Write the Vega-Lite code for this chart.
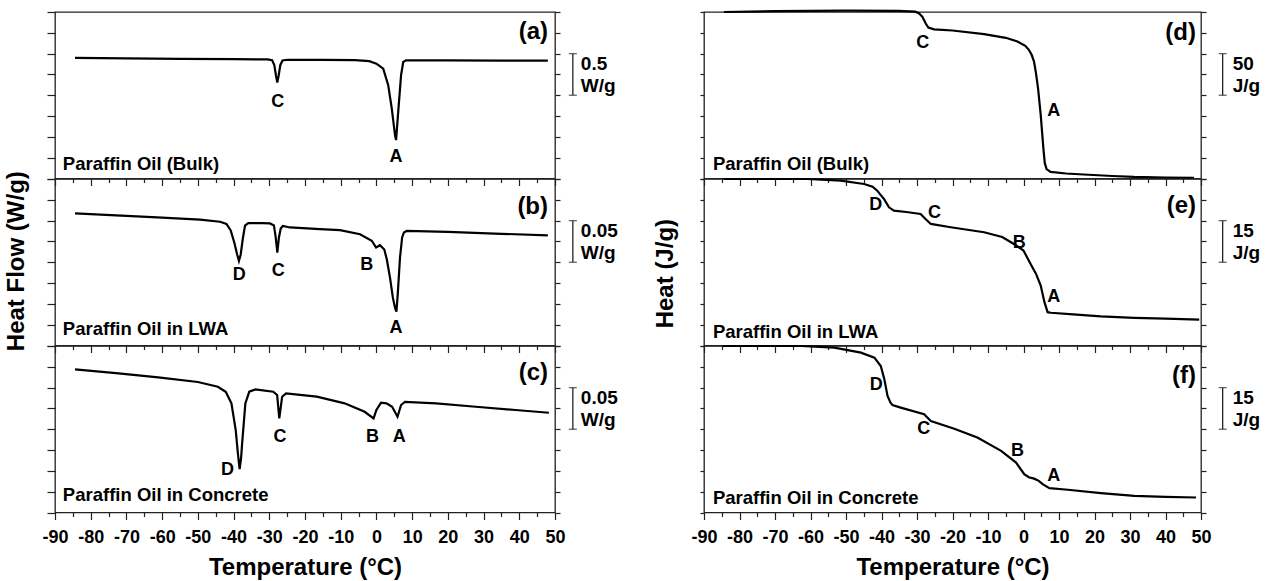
{
"$schema": "https://vega.github.io/schema/vega-lite/v6.json",
"background": "white",
"padding": {"left": 5, "top": 5, "right": 0, "bottom": 0},
"spacing": 35,
"config": {
 "font": "Liberation Sans",
 "view": {"stroke": "#222", "strokeWidth": 1.3},
 "axis": {"domain": false, "grid": false, "tickColor": "#222", "tickWidth": 1.2, "labelFontWeight": "bold", "labelFontSize": 18, "labelColor": "black", "labelOverlap": false, "labelFlush": false, "titleFontWeight": "bold", "titleColor": "black", "titleFontSize": 24}
},
"datasets": {
 "curves": [
  {"panel":"a","t":-84.4,"v":1.448},{"panel":"a","t":-70,"v":1.443},{"panel":"a","t":-55,"v":1.437},{"panel":"a","t":-40,"v":1.434},{"panel":"a","t":-30.5,"v":1.43},{"panel":"a","t":-29.2,"v":1.421},{"panel":"a","t":-28.6,"v":1.364},{"panel":"a","t":-28.1,"v":1.232},{"panel":"a","t":-27.75,"v":1.152},{"panel":"a","t":-27.4,"v":1.232},{"panel":"a","t":-26.9,"v":1.364},{"panel":"a","t":-26.3,"v":1.418},{"panel":"a","t":-25,"v":1.426},{"panel":"a","t":-15,"v":1.425},{"panel":"a","t":-6,"v":1.421},{"panel":"a","t":-2,"v":1.41},{"panel":"a","t":0,"v":1.38},{"panel":"a","t":1.9,"v":1.32},{"panel":"a","t":3.3,"v":1.121},{"panel":"a","t":4.3,"v":0.84},{"panel":"a","t":5.2,"v":0.521},{"panel":"a","t":5.5,"v":0.461},{"panel":"a","t":6.1,"v":0.8},{"panel":"a","t":6.9,"v":1.241},{"panel":"a","t":7.5,"v":1.4},{"panel":"a","t":8.3,"v":1.42},{"panel":"a","t":20,"v":1.418},{"panel":"a","t":35,"v":1.417},{"panel":"a","t":48,"v":1.416},
  {"panel":"b","t":-84.4,"v":0.1587},{"panel":"b","t":-70,"v":0.1557},{"panel":"b","t":-60,"v":0.1535},{"panel":"b","t":-49.4,"v":0.1511},{"panel":"b","t":-43.8,"v":0.1487},{"panel":"b","t":-42,"v":0.146},{"panel":"b","t":-40.8,"v":0.1382},{"panel":"b","t":-39.8,"v":0.1237},{"panel":"b","t":-39,"v":0.1093},{"panel":"b","t":-38.5,"v":0.1017},{"panel":"b","t":-38,"v":0.1093},{"panel":"b","t":-37.4,"v":0.1286},{"panel":"b","t":-36.8,"v":0.1439},{"panel":"b","t":-35.9,"v":0.147},{"panel":"b","t":-32,"v":0.1469},{"panel":"b","t":-29.8,"v":0.1466},{"panel":"b","t":-28.7,"v":0.1442},{"panel":"b","t":-28.2,"v":0.1298},{"panel":"b","t":-27.75,"v":0.1117},{"panel":"b","t":-27.3,"v":0.1298},{"panel":"b","t":-26.8,"v":0.1406},{"panel":"b","t":-26.2,"v":0.1436},{"panel":"b","t":-24.2,"v":0.1418},{"panel":"b","t":-15.8,"v":0.1398},{"panel":"b","t":-10.2,"v":0.1386},{"panel":"b","t":-4.6,"v":0.1337},{"panel":"b","t":-1.3,"v":0.1258},{"panel":"b","t":-0.1,"v":0.1177},{"panel":"b","t":1,"v":0.1205},{"panel":"b","t":2.2,"v":0.1153},{"panel":"b","t":2.9,"v":0.1036},{"panel":"b","t":3.8,"v":0.0816},{"panel":"b","t":4.6,"v":0.0575},{"panel":"b","t":5.2,"v":0.0454},{"panel":"b","t":5.6,"v":0.0406},{"panel":"b","t":6,"v":0.0635},{"panel":"b","t":6.6,"v":0.1057},{"panel":"b","t":7.2,"v":0.1298},{"panel":"b","t":7.7,"v":0.1358},{"panel":"b","t":8.5,"v":0.1378},{"panel":"b","t":20,"v":0.1364},{"panel":"b","t":35,"v":0.1342},{"panel":"b","t":48,"v":0.1322},
  {"panel":"c","t":-84.4,"v":0.1719},{"panel":"c","t":-72.2,"v":0.1672},{"panel":"c","t":-61.1,"v":0.1623},{"panel":"c","t":-50,"v":0.1568},{"panel":"c","t":-44.4,"v":0.1511},{"panel":"c","t":-42.2,"v":0.1451},{"panel":"c","t":-40.6,"v":0.1311},{"panel":"c","t":-39.4,"v":0.099},{"panel":"c","t":-38.8,"v":0.0712},{"panel":"c","t":-38.3,"v":0.0521},{"panel":"c","t":-37.9,"v":0.0652},{"panel":"c","t":-37.6,"v":0.083},{"panel":"c","t":-36.7,"v":0.1311},{"panel":"c","t":-35.6,"v":0.1451},{"panel":"c","t":-33.9,"v":0.1479},{"panel":"c","t":-28.9,"v":0.1451},{"panel":"c","t":-27.8,"v":0.1411},{"panel":"c","t":-27.2,"v":0.113},{"panel":"c","t":-26.4,"v":0.1391},{"panel":"c","t":-25.3,"v":0.1431},{"panel":"c","t":-16.7,"v":0.1391},{"panel":"c","t":-8.9,"v":0.1311},{"panel":"c","t":-3.3,"v":0.121},{"panel":"c","t":-0.8,"v":0.113},{"panel":"c","t":0,"v":0.1231},{"panel":"c","t":1.3,"v":0.1319},{"panel":"c","t":2.8,"v":0.1311},{"panel":"c","t":4.4,"v":0.127},{"panel":"c","t":5.9,"v":0.115},{"panel":"c","t":6.9,"v":0.1291},{"panel":"c","t":8,"v":0.133},{"panel":"c","t":16.7,"v":0.1311},{"panel":"c","t":27.8,"v":0.127},{"panel":"c","t":38.9,"v":0.1231},{"panel":"c","t":48.3,"v":0.1198},
  {"panel":"d","t":-84.4,"v":200},{"panel":"d","t":-70,"v":201},{"panel":"d","t":-50,"v":201.6},{"panel":"d","t":-35,"v":201.3},{"panel":"d","t":-30.5,"v":200.4},{"panel":"d","t":-29.5,"v":198.6},{"panel":"d","t":-28.5,"v":194.3},{"panel":"d","t":-27.5,"v":185.9},{"panel":"d","t":-26.8,"v":181.4},{"panel":"d","t":-25.2,"v":179.2},{"panel":"d","t":-20,"v":177.8},{"panel":"d","t":-11.1,"v":173.5},{"panel":"d","t":-5,"v":169},{"panel":"d","t":-1.7,"v":164.6},{"panel":"d","t":0.5,"v":159.4},{"panel":"d","t":1.5,"v":154.6},{"panel":"d","t":2.3,"v":148.6},{"panel":"d","t":2.96,"v":140.5},{"panel":"d","t":3.5,"v":126.9},{"panel":"d","t":4.1,"v":108.4},{"panel":"d","t":4.85,"v":76.3},{"panel":"d","t":5.6,"v":36.1},{"panel":"d","t":6,"v":18.4},{"panel":"d","t":6.5,"v":11.2},{"panel":"d","t":7.66,"v":7.95},{"panel":"d","t":12,"v":6},{"panel":"d","t":17,"v":4.8},{"panel":"d","t":25,"v":3},{"panel":"d","t":31.1,"v":1.9},{"panel":"d","t":40,"v":1.2},{"panel":"d","t":48,"v":0.7},
  {"panel":"e","t":-84.4,"v":60},{"panel":"e","t":-60.9,"v":60},{"panel":"e","t":-51.5,"v":59.4},{"panel":"e","t":-44.9,"v":58.2},{"panel":"e","t":-42.5,"v":57.2},{"panel":"e","t":-41.2,"v":55.8},{"panel":"e","t":-40.2,"v":54.2},{"panel":"e","t":-39.3,"v":52.8},{"panel":"e","t":-37.9,"v":49.8},{"panel":"e","t":-36.5,"v":48.6},{"panel":"e","t":-33,"v":48.1},{"panel":"e","t":-29,"v":47.4},{"panel":"e","t":-27.6,"v":45.6},{"panel":"e","t":-26.1,"v":43.8},{"panel":"e","t":-20.5,"v":42.6},{"panel":"e","t":-11.1,"v":40.8},{"panel":"e","t":-6,"v":39.1},{"panel":"e","t":-2.7,"v":36.6},{"panel":"e","t":0,"v":34.2},{"panel":"e","t":2,"v":29.4},{"panel":"e","t":3.5,"v":25.9},{"panel":"e","t":4.85,"v":21.6},{"panel":"e","t":5.9,"v":15.6},{"panel":"e","t":6.8,"v":12},{"panel":"e","t":7.7,"v":11.8},{"panel":"e","t":14,"v":11.2},{"panel":"e","t":21.8,"v":10.5},{"panel":"e","t":31.2,"v":9.97},{"panel":"e","t":40,"v":9.65},{"panel":"e","t":49.5,"v":9.36},
  {"panel":"f","t":-84.7,"v":60},{"panel":"f","t":-62.7,"v":60},{"panel":"f","t":-53.3,"v":59.4},{"panel":"f","t":-45.8,"v":57.6},{"panel":"f","t":-42,"v":55.8},{"panel":"f","t":-40.2,"v":52.8},{"panel":"f","t":-39.2,"v":48},{"panel":"f","t":-38.3,"v":42},{"panel":"f","t":-37.5,"v":39.7},{"panel":"f","t":-36.9,"v":38.7},{"panel":"f","t":-34.6,"v":37.8},{"panel":"f","t":-28,"v":35.4},{"panel":"f","t":-26.1,"v":33},{"panel":"f","t":-19.5,"v":30.2},{"panel":"f","t":-13,"v":27},{"panel":"f","t":-6.3,"v":22.2},{"panel":"f","t":-2.1,"v":18},{"panel":"f","t":0.2,"v":13.8},{"panel":"f","t":1.5,"v":12.7},{"panel":"f","t":3,"v":12.2},{"panel":"f","t":4.3,"v":11.4},{"panel":"f","t":5.4,"v":10.2},{"panel":"f","t":7.3,"v":8.8},{"panel":"f","t":12.5,"v":8.2},{"panel":"f","t":21.8,"v":7},{"panel":"f","t":31.2,"v":6},{"panel":"f","t":40,"v":5.6},{"panel":"f","t":48.6,"v":5.4}
 ],
 "notes": [
  {"panel":"a","kind":"peak","t":-27.6,"v":0.92,"text":"C"},{"panel":"a","kind":"peak","t":5.5,"v":0.26,"text":"A"},{"panel":"a","kind":"sample","t":-87.8,"v":0.176,"text":"Paraffin Oil (Bulk)"},{"panel":"a","kind":"tag","t":48.05,"v":1.76,"text":"(a)"},
  {"panel":"b","kind":"peak","t":-38.4,"v":0.0852,"text":"D"},{"panel":"b","kind":"peak","t":-27.5,"v":0.09,"text":"C"},{"panel":"b","kind":"peak","t":-2.7,"v":0.0972,"text":"B"},{"panel":"b","kind":"peak","t":5.5,"v":0.0213,"text":"A"},{"panel":"b","kind":"sample","t":-87.8,"v":0.0201,"text":"Paraffin Oil in LWA"},{"panel":"b","kind":"tag","t":48.05,"v":0.1659,"text":"(b)"},
  {"panel":"c","kind":"peak","t":-41.7,"v":0.0509,"text":"D"},{"panel":"c","kind":"peak","t":-27,"v":0.091,"text":"C"},{"panel":"c","kind":"peak","t":-1.1,"v":0.091,"text":"B"},{"panel":"c","kind":"peak","t":6.4,"v":0.091,"text":"A"},{"panel":"c","kind":"sample","t":-87.8,"v":0.0211,"text":"Paraffin Oil in Concrete"},{"panel":"c","kind":"tag","t":48.05,"v":0.1671,"text":"(c)"},
  {"panel":"d","kind":"peak","t":-28.4,"v":162.6,"text":"C"},{"panel":"d","kind":"peak","t":8.5,"v":81.1,"text":"A"},{"panel":"d","kind":"sample","t":-87.5,"v":16.9,"text":"Paraffin Oil (Bulk)"},{"panel":"d","kind":"tag","t":48.6,"v":174.7,"text":"(d)"},
  {"panel":"e","kind":"peak","t":-41.6,"v":50.8,"text":"D"},{"panel":"e","kind":"peak","t":-25.1,"v":47.8,"text":"C"},{"panel":"e","kind":"peak","t":-1.2,"v":37,"text":"B"},{"panel":"e","kind":"peak","t":8.5,"v":17.4,"text":"A"},{"panel":"e","kind":"sample","t":-87.5,"v":5,"text":"Paraffin Oil in LWA"},{"panel":"e","kind":"tag","t":48.6,"v":50.4,"text":"(e)"},
  {"panel":"f","kind":"peak","t":-41.5,"v":46,"text":"D"},{"panel":"f","kind":"peak","t":-28.1,"v":30,"text":"C"},{"panel":"f","kind":"peak","t":-1.7,"v":22.2,"text":"B"},{"panel":"f","kind":"peak","t":8.5,"v":13,"text":"A"},{"panel":"f","kind":"sample","t":-87.5,"v":5.4,"text":"Paraffin Oil in Concrete"},{"panel":"f","kind":"tag","t":48.6,"v":49.2,"text":"(f)"}
 ],
 "bars": [
  {"panel":"a","t":55,"v1":1.0,"v2":1.5,"text":"0.5\nW/g"},
  {"panel":"b","t":55,"v1":0.1,"v2":0.15,"text":"0.05\nW/g"},
  {"panel":"c","t":55,"v1":0.1,"v2":0.15,"text":"0.05\nW/g"},
  {"panel":"d","t":56.1,"v1":100,"v2":150,"text":"50\nJ/g"},
  {"panel":"e","t":56.1,"v1":30,"v2":45,"text":"15\nJ/g"},
  {"panel":"f","t":56.1,"v1":30,"v2":45,"text":"15\nJ/g"}
 ]
},
"hconcat": [
 {"spacing": 0, "bounds": "flush",
  "title": {"text": "Heat Flow (W/g)", "orient": "left", "anchor": "middle", "fontSize": 24, "fontWeight": "bold", "color": "black", "offset": 12, "dx": 34},
  "vconcat": [
  {"width": 500, "height": 166.5, "resolve": {"axis": {"y": "independent"}},
   "layer": [
    {"data": {"name": "curves"}, "transform": [{"filter": "datum.panel === 'a'"}], "mark": {"type": "line", "color": "black", "strokeWidth": 2.2},
     "encoding": {"x": {"field": "t", "type": "quantitative", "scale": {"domain": [-90, 50], "nice": false, "zero": false}, "axis": {"values": [-90,-85,-80,-75,-70,-65,-60,-55,-50,-45,-40,-35,-30,-25,-20,-15,-10,-5,0,5,10,15,20,25,30,35,40,45,50], "tickCount": 29, "tickSize": {"condition": {"test": "datum.value % 10 === 0", "value": 7}, "value": 4}, "labels": false, "title": null}},
      "y": {"field": "v", "type": "quantitative", "scale": {"domain": [0, 2], "nice": false, "zero": false}, "axis": {"orient": "left", "values": [0,0.25,0.5,0.75,1,1.25,1.5,1.75,2], "labels": false, "title": null, "tickSize": 8}}}},
    {"data": {"name": "notes"}, "transform": [{"filter": "datum.panel === 'a' && datum.kind === 'peak'"}], "mark": {"type": "text", "color": "black", "fontSize": 18, "fontWeight": "bold"},
     "encoding": {"x": {"field": "t", "type": "quantitative"}, "y": {"field": "v", "type": "quantitative", "axis": {"orient": "right", "values": [0,0.25,0.5,0.75,1,1.25,1.5,1.75,2], "labels": false, "title": null, "tickSize": 5}}, "text": {"field": "text"}}},
    {"data": {"name": "notes"}, "transform": [{"filter": "datum.panel === 'a' && datum.kind === 'sample'"}], "mark": {"type": "text", "color": "black", "fontSize": 18.5, "fontWeight": "bold", "align": "left"},
     "encoding": {"x": {"field": "t", "type": "quantitative"}, "y": {"field": "v", "type": "quantitative", "axis": null}, "text": {"field": "text"}}},
    {"data": {"name": "notes"}, "transform": [{"filter": "datum.panel === 'a' && datum.kind === 'tag'"}], "mark": {"type": "text", "color": "black", "fontSize": 24, "fontWeight": "bold", "align": "right"},
     "encoding": {"x": {"field": "t", "type": "quantitative"}, "y": {"field": "v", "type": "quantitative", "axis": null}, "text": {"field": "text"}}},
    {"data": {"name": "bars"}, "transform": [{"filter": "datum.panel === 'a'"}], "mark": {"type": "rule", "color": "#222", "strokeWidth": 1.3},
     "encoding": {"x": {"field": "t", "type": "quantitative"}, "y": {"field": "v1", "type": "quantitative", "axis": null}, "y2": {"field": "v2"}}},
    {"data": {"name": "bars"}, "transform": [{"filter": "datum.panel === 'a'"}], "mark": {"type": "tick", "orient": "horizontal", "size": 8, "thickness": 1.3, "color": "#222"},
     "encoding": {"x": {"field": "t", "type": "quantitative"}, "y": {"field": "v1", "type": "quantitative", "axis": null}}},
    {"data": {"name": "bars"}, "transform": [{"filter": "datum.panel === 'a'"}], "mark": {"type": "tick", "orient": "horizontal", "size": 8, "thickness": 1.3, "color": "#222"},
     "encoding": {"x": {"field": "t", "type": "quantitative"}, "y": {"field": "v2", "type": "quantitative", "axis": null}}},
    {"data": {"name": "bars"}, "transform": [{"filter": "datum.panel === 'a'"}], "mark": {"type": "text", "color": "black", "fontSize": 19, "fontWeight": "bold", "align": "left", "baseline": "top", "dx": 8, "dy": 1, "lineBreak": "\n", "lineHeight": 22},
     "encoding": {"x": {"field": "t", "type": "quantitative"}, "y": {"field": "v2", "type": "quantitative", "axis": null}, "text": {"field": "text"}}}
   ]},
  {"width": 500, "height": 166.5, "resolve": {"axis": {"y": "independent"}},
   "layer": [
    {"data": {"name": "curves"}, "transform": [{"filter": "datum.panel === 'b'"}], "mark": {"type": "line", "color": "black", "strokeWidth": 2.2},
     "encoding": {"x": {"field": "t", "type": "quantitative", "scale": {"domain": [-90, 50], "nice": false, "zero": false}, "axis": {"values": [-90,-85,-80,-75,-70,-65,-60,-55,-50,-45,-40,-35,-30,-25,-20,-15,-10,-5,0,5,10,15,20,25,30,35,40,45,50], "tickCount": 29, "tickSize": {"condition": {"test": "datum.value % 10 === 0", "value": 7}, "value": 4}, "labels": false, "title": null}},
      "y": {"field": "v", "type": "quantitative", "scale": {"domain": [0, 0.2], "nice": false, "zero": false}, "axis": {"orient": "left", "values": [0,0.025,0.05,0.075,0.1,0.125,0.15,0.175,0.2], "labels": false, "title": null, "tickSize": 8}}}},
    {"data": {"name": "notes"}, "transform": [{"filter": "datum.panel === 'b' && datum.kind === 'peak'"}], "mark": {"type": "text", "color": "black", "fontSize": 18, "fontWeight": "bold"},
     "encoding": {"x": {"field": "t", "type": "quantitative"}, "y": {"field": "v", "type": "quantitative", "axis": {"orient": "right", "values": [0,0.025,0.05,0.075,0.1,0.125,0.15,0.175,0.2], "labels": false, "title": null, "tickSize": 5}}, "text": {"field": "text"}}},
    {"data": {"name": "notes"}, "transform": [{"filter": "datum.panel === 'b' && datum.kind === 'sample'"}], "mark": {"type": "text", "color": "black", "fontSize": 18.5, "fontWeight": "bold", "align": "left"},
     "encoding": {"x": {"field": "t", "type": "quantitative"}, "y": {"field": "v", "type": "quantitative", "axis": null}, "text": {"field": "text"}}},
    {"data": {"name": "notes"}, "transform": [{"filter": "datum.panel === 'b' && datum.kind === 'tag'"}], "mark": {"type": "text", "color": "black", "fontSize": 24, "fontWeight": "bold", "align": "right"},
     "encoding": {"x": {"field": "t", "type": "quantitative"}, "y": {"field": "v", "type": "quantitative", "axis": null}, "text": {"field": "text"}}},
    {"data": {"name": "bars"}, "transform": [{"filter": "datum.panel === 'b'"}], "mark": {"type": "rule", "color": "#222", "strokeWidth": 1.3},
     "encoding": {"x": {"field": "t", "type": "quantitative"}, "y": {"field": "v1", "type": "quantitative", "axis": null}, "y2": {"field": "v2"}}},
    {"data": {"name": "bars"}, "transform": [{"filter": "datum.panel === 'b'"}], "mark": {"type": "tick", "orient": "horizontal", "size": 8, "thickness": 1.3, "color": "#222"},
     "encoding": {"x": {"field": "t", "type": "quantitative"}, "y": {"field": "v1", "type": "quantitative", "axis": null}}},
    {"data": {"name": "bars"}, "transform": [{"filter": "datum.panel === 'b'"}], "mark": {"type": "tick", "orient": "horizontal", "size": 8, "thickness": 1.3, "color": "#222"},
     "encoding": {"x": {"field": "t", "type": "quantitative"}, "y": {"field": "v2", "type": "quantitative", "axis": null}}},
    {"data": {"name": "bars"}, "transform": [{"filter": "datum.panel === 'b'"}], "mark": {"type": "text", "color": "black", "fontSize": 19, "fontWeight": "bold", "align": "left", "baseline": "top", "dx": 8, "dy": 1, "lineBreak": "\n", "lineHeight": 22},
     "encoding": {"x": {"field": "t", "type": "quantitative"}, "y": {"field": "v2", "type": "quantitative", "axis": null}, "text": {"field": "text"}}}
   ]},
  {"width": 500, "height": 166.5, "resolve": {"axis": {"y": "independent"}},
   "layer": [
    {"data": {"name": "curves"}, "transform": [{"filter": "datum.panel === 'c'"}], "mark": {"type": "line", "color": "black", "strokeWidth": 2.2},
     "encoding": {"x": {"field": "t", "type": "quantitative", "scale": {"domain": [-90, 50], "nice": false, "zero": false}, "axis": {"values": [-90,-85,-80,-75,-70,-65,-60,-55,-50,-45,-40,-35,-30,-25,-20,-15,-10,-5,0,5,10,15,20,25,30,35,40,45,50], "tickCount": 29, "tickSize": {"condition": {"test": "datum.value % 10 === 0", "value": 7}, "value": 4}, "labelExpr": "datum.value % 10 === 0 ? '' + datum.value : ''", "labelOverlap": false, "labelFlush": false, "labelPadding": 8.5, "title": "Temperature (°C)", "titlePadding": 9}},
      "y": {"field": "v", "type": "quantitative", "scale": {"domain": [0, 0.2], "nice": false, "zero": false}, "axis": {"orient": "left", "values": [0,0.025,0.05,0.075,0.1,0.125,0.15,0.175,0.2], "labels": false, "title": null, "tickSize": 8}}}},
    {"data": {"name": "notes"}, "transform": [{"filter": "datum.panel === 'c' && datum.kind === 'peak'"}], "mark": {"type": "text", "color": "black", "fontSize": 18, "fontWeight": "bold"},
     "encoding": {"x": {"field": "t", "type": "quantitative"}, "y": {"field": "v", "type": "quantitative", "axis": {"orient": "right", "values": [0,0.025,0.05,0.075,0.1,0.125,0.15,0.175,0.2], "labels": false, "title": null, "tickSize": 5}}, "text": {"field": "text"}}},
    {"data": {"name": "notes"}, "transform": [{"filter": "datum.panel === 'c' && datum.kind === 'sample'"}], "mark": {"type": "text", "color": "black", "fontSize": 18.5, "fontWeight": "bold", "align": "left"},
     "encoding": {"x": {"field": "t", "type": "quantitative"}, "y": {"field": "v", "type": "quantitative", "axis": null}, "text": {"field": "text"}}},
    {"data": {"name": "notes"}, "transform": [{"filter": "datum.panel === 'c' && datum.kind === 'tag'"}], "mark": {"type": "text", "color": "black", "fontSize": 24, "fontWeight": "bold", "align": "right"},
     "encoding": {"x": {"field": "t", "type": "quantitative"}, "y": {"field": "v", "type": "quantitative", "axis": null}, "text": {"field": "text"}}},
    {"data": {"name": "bars"}, "transform": [{"filter": "datum.panel === 'c'"}], "mark": {"type": "rule", "color": "#222", "strokeWidth": 1.3},
     "encoding": {"x": {"field": "t", "type": "quantitative"}, "y": {"field": "v1", "type": "quantitative", "axis": null}, "y2": {"field": "v2"}}},
    {"data": {"name": "bars"}, "transform": [{"filter": "datum.panel === 'c'"}], "mark": {"type": "tick", "orient": "horizontal", "size": 8, "thickness": 1.3, "color": "#222"},
     "encoding": {"x": {"field": "t", "type": "quantitative"}, "y": {"field": "v1", "type": "quantitative", "axis": null}}},
    {"data": {"name": "bars"}, "transform": [{"filter": "datum.panel === 'c'"}], "mark": {"type": "tick", "orient": "horizontal", "size": 8, "thickness": 1.3, "color": "#222"},
     "encoding": {"x": {"field": "t", "type": "quantitative"}, "y": {"field": "v2", "type": "quantitative", "axis": null}}},
    {"data": {"name": "bars"}, "transform": [{"filter": "datum.panel === 'c'"}], "mark": {"type": "text", "color": "black", "fontSize": 19, "fontWeight": "bold", "align": "left", "baseline": "top", "dx": 8, "dy": 1, "lineBreak": "\n", "lineHeight": 22},
     "encoding": {"x": {"field": "t", "type": "quantitative"}, "y": {"field": "v2", "type": "quantitative", "axis": null}, "text": {"field": "text"}}}
   ]}
 ]},
 {"spacing": 0, "bounds": "flush",
  "title": {"text": "Heat (J/g)", "orient": "left", "anchor": "middle", "fontSize": 24, "fontWeight": "bold", "color": "black", "offset": 12, "dx": 19},
  "vconcat": [
  {"width": 497, "height": 166.5, "resolve": {"axis": {"y": "independent"}},
   "layer": [
    {"data": {"name": "curves"}, "transform": [{"filter": "datum.panel === 'd'"}], "mark": {"type": "line", "color": "black", "strokeWidth": 2.2},
     "encoding": {"x": {"field": "t", "type": "quantitative", "scale": {"domain": [-90, 50], "nice": false, "zero": false}, "axis": {"values": [-90,-85,-80,-75,-70,-65,-60,-55,-50,-45,-40,-35,-30,-25,-20,-15,-10,-5,0,5,10,15,20,25,30,35,40,45,50], "tickCount": 29, "tickSize": {"condition": {"test": "datum.value % 10 === 0", "value": 7}, "value": 4}, "labels": false, "title": null}},
      "y": {"field": "v", "type": "quantitative", "scale": {"domain": [0, 200], "nice": false, "zero": false}, "axis": {"orient": "left", "values": [0,25,50,75,100,125,150,175,200], "labels": false, "title": null, "tickSize": 4}}}},
    {"data": {"name": "notes"}, "transform": [{"filter": "datum.panel === 'd' && datum.kind === 'peak'"}], "mark": {"type": "text", "color": "black", "fontSize": 18, "fontWeight": "bold"},
     "encoding": {"x": {"field": "t", "type": "quantitative"}, "y": {"field": "v", "type": "quantitative", "axis": {"orient": "right", "values": [0,25,50,75,100,125,150,175,200], "labels": false, "title": null, "tickSize": 5}}, "text": {"field": "text"}}},
    {"data": {"name": "notes"}, "transform": [{"filter": "datum.panel === 'd' && datum.kind === 'sample'"}], "mark": {"type": "text", "color": "black", "fontSize": 18.5, "fontWeight": "bold", "align": "left"},
     "encoding": {"x": {"field": "t", "type": "quantitative"}, "y": {"field": "v", "type": "quantitative", "axis": null}, "text": {"field": "text"}}},
    {"data": {"name": "notes"}, "transform": [{"filter": "datum.panel === 'd' && datum.kind === 'tag'"}], "mark": {"type": "text", "color": "black", "fontSize": 24, "fontWeight": "bold", "align": "right"},
     "encoding": {"x": {"field": "t", "type": "quantitative"}, "y": {"field": "v", "type": "quantitative", "axis": null}, "text": {"field": "text"}}},
    {"data": {"name": "bars"}, "transform": [{"filter": "datum.panel === 'd'"}], "mark": {"type": "rule", "color": "#222", "strokeWidth": 1.3},
     "encoding": {"x": {"field": "t", "type": "quantitative"}, "y": {"field": "v1", "type": "quantitative", "axis": null}, "y2": {"field": "v2"}}},
    {"data": {"name": "bars"}, "transform": [{"filter": "datum.panel === 'd'"}], "mark": {"type": "tick", "orient": "horizontal", "size": 8, "thickness": 1.3, "color": "#222"},
     "encoding": {"x": {"field": "t", "type": "quantitative"}, "y": {"field": "v1", "type": "quantitative", "axis": null}}},
    {"data": {"name": "bars"}, "transform": [{"filter": "datum.panel === 'd'"}], "mark": {"type": "tick", "orient": "horizontal", "size": 8, "thickness": 1.3, "color": "#222"},
     "encoding": {"x": {"field": "t", "type": "quantitative"}, "y": {"field": "v2", "type": "quantitative", "axis": null}}},
    {"data": {"name": "bars"}, "transform": [{"filter": "datum.panel === 'd'"}], "mark": {"type": "text", "color": "black", "fontSize": 19, "fontWeight": "bold", "align": "left", "baseline": "top", "dx": 10, "dy": 1, "lineBreak": "\n", "lineHeight": 22},
     "encoding": {"x": {"field": "t", "type": "quantitative"}, "y": {"field": "v2", "type": "quantitative", "axis": null}, "text": {"field": "text"}}}
   ]},
  {"width": 497, "height": 166.5, "resolve": {"axis": {"y": "independent"}},
   "layer": [
    {"data": {"name": "curves"}, "transform": [{"filter": "datum.panel === 'e'"}], "mark": {"type": "line", "color": "black", "strokeWidth": 2.2},
     "encoding": {"x": {"field": "t", "type": "quantitative", "scale": {"domain": [-90, 50], "nice": false, "zero": false}, "axis": {"values": [-90,-85,-80,-75,-70,-65,-60,-55,-50,-45,-40,-35,-30,-25,-20,-15,-10,-5,0,5,10,15,20,25,30,35,40,45,50], "tickCount": 29, "tickSize": {"condition": {"test": "datum.value % 10 === 0", "value": 7}, "value": 4}, "labels": false, "title": null}},
      "y": {"field": "v", "type": "quantitative", "scale": {"domain": [0, 60], "nice": false, "zero": false}, "axis": {"orient": "left", "values": [0,7.5,15,22.5,30,37.5,45,52.5,60], "labels": false, "title": null, "tickSize": 4}}}},
    {"data": {"name": "notes"}, "transform": [{"filter": "datum.panel === 'e' && datum.kind === 'peak'"}], "mark": {"type": "text", "color": "black", "fontSize": 18, "fontWeight": "bold"},
     "encoding": {"x": {"field": "t", "type": "quantitative"}, "y": {"field": "v", "type": "quantitative", "axis": {"orient": "right", "values": [0,7.5,15,22.5,30,37.5,45,52.5,60], "labels": false, "title": null, "tickSize": 5}}, "text": {"field": "text"}}},
    {"data": {"name": "notes"}, "transform": [{"filter": "datum.panel === 'e' && datum.kind === 'sample'"}], "mark": {"type": "text", "color": "black", "fontSize": 18.5, "fontWeight": "bold", "align": "left"},
     "encoding": {"x": {"field": "t", "type": "quantitative"}, "y": {"field": "v", "type": "quantitative", "axis": null}, "text": {"field": "text"}}},
    {"data": {"name": "notes"}, "transform": [{"filter": "datum.panel === 'e' && datum.kind === 'tag'"}], "mark": {"type": "text", "color": "black", "fontSize": 24, "fontWeight": "bold", "align": "right"},
     "encoding": {"x": {"field": "t", "type": "quantitative"}, "y": {"field": "v", "type": "quantitative", "axis": null}, "text": {"field": "text"}}},
    {"data": {"name": "bars"}, "transform": [{"filter": "datum.panel === 'e'"}], "mark": {"type": "rule", "color": "#222", "strokeWidth": 1.3},
     "encoding": {"x": {"field": "t", "type": "quantitative"}, "y": {"field": "v1", "type": "quantitative", "axis": null}, "y2": {"field": "v2"}}},
    {"data": {"name": "bars"}, "transform": [{"filter": "datum.panel === 'e'"}], "mark": {"type": "tick", "orient": "horizontal", "size": 8, "thickness": 1.3, "color": "#222"},
     "encoding": {"x": {"field": "t", "type": "quantitative"}, "y": {"field": "v1", "type": "quantitative", "axis": null}}},
    {"data": {"name": "bars"}, "transform": [{"filter": "datum.panel === 'e'"}], "mark": {"type": "tick", "orient": "horizontal", "size": 8, "thickness": 1.3, "color": "#222"},
     "encoding": {"x": {"field": "t", "type": "quantitative"}, "y": {"field": "v2", "type": "quantitative", "axis": null}}},
    {"data": {"name": "bars"}, "transform": [{"filter": "datum.panel === 'e'"}], "mark": {"type": "text", "color": "black", "fontSize": 19, "fontWeight": "bold", "align": "left", "baseline": "top", "dx": 10, "dy": 1, "lineBreak": "\n", "lineHeight": 22},
     "encoding": {"x": {"field": "t", "type": "quantitative"}, "y": {"field": "v2", "type": "quantitative", "axis": null}, "text": {"field": "text"}}}
   ]},
  {"width": 497, "height": 166.5, "resolve": {"axis": {"y": "independent"}},
   "layer": [
    {"data": {"name": "curves"}, "transform": [{"filter": "datum.panel === 'f'"}], "mark": {"type": "line", "color": "black", "strokeWidth": 2.2},
     "encoding": {"x": {"field": "t", "type": "quantitative", "scale": {"domain": [-90, 50], "nice": false, "zero": false}, "axis": {"values": [-90,-85,-80,-75,-70,-65,-60,-55,-50,-45,-40,-35,-30,-25,-20,-15,-10,-5,0,5,10,15,20,25,30,35,40,45,50], "tickCount": 29, "tickSize": {"condition": {"test": "datum.value % 10 === 0", "value": 7}, "value": 4}, "labelExpr": "datum.value % 10 === 0 ? '' + datum.value : ''", "labelOverlap": false, "labelFlush": false, "labelPadding": 8.5, "title": "Temperature (°C)", "titlePadding": 9}},
      "y": {"field": "v", "type": "quantitative", "scale": {"domain": [0, 60], "nice": false, "zero": false}, "axis": {"orient": "left", "values": [0,7.5,15,22.5,30,37.5,45,52.5,60], "labels": false, "title": null, "tickSize": 4}}}},
    {"data": {"name": "notes"}, "transform": [{"filter": "datum.panel === 'f' && datum.kind === 'peak'"}], "mark": {"type": "text", "color": "black", "fontSize": 18, "fontWeight": "bold"},
     "encoding": {"x": {"field": "t", "type": "quantitative"}, "y": {"field": "v", "type": "quantitative", "axis": {"orient": "right", "values": [0,7.5,15,22.5,30,37.5,45,52.5,60], "labels": false, "title": null, "tickSize": 5}}, "text": {"field": "text"}}},
    {"data": {"name": "notes"}, "transform": [{"filter": "datum.panel === 'f' && datum.kind === 'sample'"}], "mark": {"type": "text", "color": "black", "fontSize": 18.5, "fontWeight": "bold", "align": "left"},
     "encoding": {"x": {"field": "t", "type": "quantitative"}, "y": {"field": "v", "type": "quantitative", "axis": null}, "text": {"field": "text"}}},
    {"data": {"name": "notes"}, "transform": [{"filter": "datum.panel === 'f' && datum.kind === 'tag'"}], "mark": {"type": "text", "color": "black", "fontSize": 24, "fontWeight": "bold", "align": "right"},
     "encoding": {"x": {"field": "t", "type": "quantitative"}, "y": {"field": "v", "type": "quantitative", "axis": null}, "text": {"field": "text"}}},
    {"data": {"name": "bars"}, "transform": [{"filter": "datum.panel === 'f'"}], "mark": {"type": "rule", "color": "#222", "strokeWidth": 1.3},
     "encoding": {"x": {"field": "t", "type": "quantitative"}, "y": {"field": "v1", "type": "quantitative", "axis": null}, "y2": {"field": "v2"}}},
    {"data": {"name": "bars"}, "transform": [{"filter": "datum.panel === 'f'"}], "mark": {"type": "tick", "orient": "horizontal", "size": 8, "thickness": 1.3, "color": "#222"},
     "encoding": {"x": {"field": "t", "type": "quantitative"}, "y": {"field": "v1", "type": "quantitative", "axis": null}}},
    {"data": {"name": "bars"}, "transform": [{"filter": "datum.panel === 'f'"}], "mark": {"type": "tick", "orient": "horizontal", "size": 8, "thickness": 1.3, "color": "#222"},
     "encoding": {"x": {"field": "t", "type": "quantitative"}, "y": {"field": "v2", "type": "quantitative", "axis": null}}},
    {"data": {"name": "bars"}, "transform": [{"filter": "datum.panel === 'f'"}], "mark": {"type": "text", "color": "black", "fontSize": 19, "fontWeight": "bold", "align": "left", "baseline": "top", "dx": 10, "dy": 1, "lineBreak": "\n", "lineHeight": 22},
     "encoding": {"x": {"field": "t", "type": "quantitative"}, "y": {"field": "v2", "type": "quantitative", "axis": null}, "text": {"field": "text"}}}
   ]}
 ]}
]
}
